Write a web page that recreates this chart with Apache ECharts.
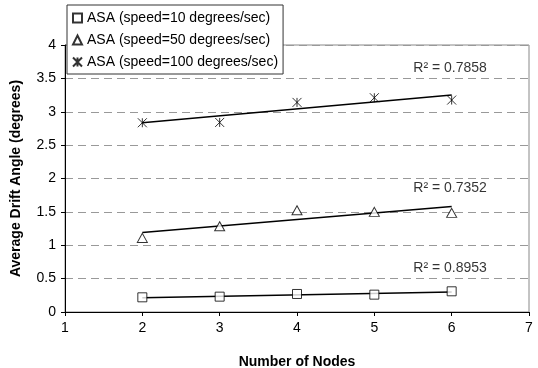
<!DOCTYPE html>
<html>
<head>
<meta charset="utf-8">
<script src="https://cdn.jsdelivr.net/npm/echarts@6/dist/echarts.min.js"></script>
<style>
  html, body { margin: 0; padding: 0; background: #fff; }
  #chart { width: 538px; height: 368px; }
</style>
</head>
<body>
<div id="chart"></div>
<script>
// values
const nodes = [2, 3, 4, 5, 6];
const speed10 = [0.22, 0.23, 0.27, 0.26, 0.31];
const speed50 = [1.11, 1.285, 1.525, 1.5, 1.485];
const speed100 = [2.835, 2.84, 3.14, 3.21, 3.175];
// trend line ends (x = 2 and x = 6)
const trend10 = [0.215, 0.30];
const trend50 = [1.19, 1.58];
const trend100 = [2.835, 3.25];
const r2Values = ["0.8953", "0.7352", "0.7858"];
const seriesNames = [
  "ASA (speed=10 degrees/sec)",
  "ASA (speed=50 degrees/sec)",
  "ASA (speed=100 degrees/sec)",
];

const FONT = "'Liberation Sans', Arial, sans-serif";
const pts = (ys) => nodes.map((x, i) => [x, ys[i]]);
const trend = (t) => [[nodes[0], t[0]], [nodes[nodes.length - 1], t[1]]];

const starPath = "path://M0,0L10,10M10,0L0,10M5,0L5,10";
const symbols = ["rect", "triangle", starPath];
const symbolSizes = [[9, 9], [10, 9], [9, 9]];
const values = [speed10, speed50, speed100];
const trends = [trend10, trend50, trend100];
// where the R² labels sit (data space), same order as r2Values
const labelAt = [[5.98, 0.66], [5.98, 1.855], [5.98, 3.655]];

const series = [];
trends.forEach((t) => {
  series.push({
    type: "line",
    data: trend(t),
    symbol: "none",
    lineStyle: { color: "#000", width: 1.5 },
    z: 2,
    silent: true,
  });
});
values.forEach((v, i) => {
  series.push({
    name: seriesNames[i],
    type: "scatter",
    data: pts(v),
    symbol: symbols[i],
    symbolSize: symbolSizes[i],
    itemStyle: {
      color: i === 2 ? "#000" : "#fff",
      borderColor: "#000",
      borderWidth: 1,
    },
    z: 3,
  });
});
series.push({
  type: "scatter",
  symbolSize: 0,
  silent: true,
  data: labelAt.map((p, i) => ({
    value: p,
    label: {
      show: true,
      position: "inside",
      formatter: "R² = " + r2Values[i],
      color: "#000",
      fontSize: 14,
      fontFamily: FONT,
    },
  })),
});

const chart = echarts.init(document.getElementById("chart"));
chart.setOption({
  animation: false,
  backgroundColor: "#fff",
  textStyle: { fontFamily: FONT },
  grid: {
    left: 65, right: 9, top: 45, bottom: 56,
    outerBoundsMode: "none",
    show: true, borderColor: "#888", borderWidth: 1,
  },
  legend: {
    data: seriesNames,
    orient: "vertical",
    left: 67,
    top: 5,
    padding: [6, 5, 5, 5],
    itemGap: 8,
    itemWidth: 9,
    itemHeight: 9,
    itemTextGap: 4,
    backgroundColor: "#fff",
    borderColor: "#333",
    borderWidth: 1,
    borderRadius: 0,
    textStyle: { color: "#000", fontSize: 14, fontFamily: FONT },
  },
  xAxis: {
    type: "value",
    min: 1,
    max: 7,
    interval: 1,
    name: "Number of Nodes",
    nameLocation: "middle",
    nameGap: 43,
    nameTextStyle: { color: "#000", fontSize: 14, fontWeight: "bold", fontFamily: FONT },
    axisLine: { lineStyle: { color: "#000", width: 1 } },
    axisTick: { lineStyle: { color: "#000" }, length: 4 },
    axisLabel: { color: "#000", fontSize: 14, margin: 9, fontFamily: FONT },
    splitLine: { show: false },
  },
  yAxis: {
    type: "value",
    min: 0,
    max: 4,
    interval: 0.5,
    name: "Average Drift Angle (degrees)",
    nameLocation: "middle",
    nameGap: 42,
    nameTextStyle: { color: "#000", fontSize: 14, fontWeight: "bold", fontFamily: FONT },
    axisLine: { show: true, lineStyle: { color: "#000", width: 1 } },
    axisTick: { show: true, lineStyle: { color: "#000" }, length: 4 },
    axisLabel: { color: "#000", fontSize: 14, margin: 9, fontFamily: FONT },
    splitLine: { lineStyle: { color: "#999", type: [8, 5], width: 1 } },
  },
  series: series,
});
</script>
</body>
</html>
